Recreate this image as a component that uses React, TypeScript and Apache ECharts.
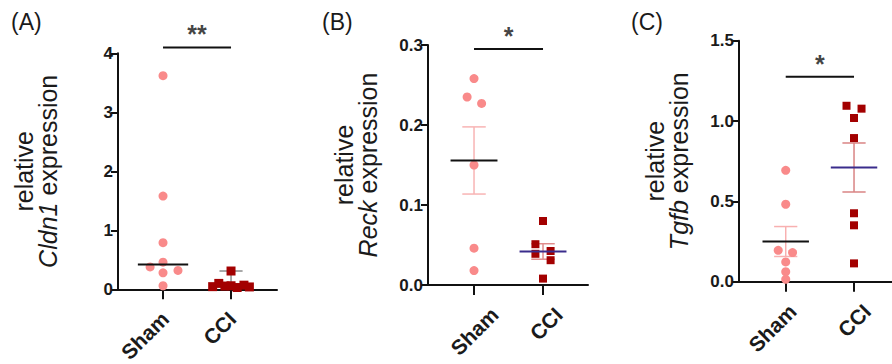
import React, { useEffect, useRef } from 'react';
import * as echarts from 'echarts';

const categories = ['Sham', 'CCI'];
const panelLetters = ['(A)', '(B)', '(C)'];
const genes = ['Cldn1', 'Reck', 'Tgfb'];
const stars = ['**', '*', '*'];
const bracketY = [4.1, 0.295, 1.275];

// y axis ranges and ticks
const yMax = [4, 0.3, 1.5];
const yInterval = [1, 0.1, 0.5];
const yDecimals = [0, 1, 1];

// Panel A (Cldn1) — median shown
const shamA = [3.62, 1.58, 0.79, 0.46, 0.38, 0.28, 0.32, 0.06];
const shamJitterA = [0, 0, 0, 0, -0.19, 0, 0.22, 0];
const cciA = [0.31, 0.045, 0.1, 0.055, 0.06, 0.03, 0.07, 0.04];
const cciJitterA = [0, -0.27, -0.18, -0.09, 0, 0.09, 0.19, 0.27];
const cciWhiskerTopA = 0.31;

// Panel B (Reck) — mean ± SEM
const shamB = [0.258, 0.235, 0.227, 0.15, 0.046, 0.018];
const shamJitterB = [0, -0.1, 0.11, 0, 0, 0];
const cciB = [0.08, 0.051, 0.039, 0.0425, 0.031, 0.008];
const cciJitterB = [0, -0.11, -0.11, 0.11, 0.11, 0];

// Panel C (Tgfb) — mean ± SEM
const shamC = [0.693, 0.482, 0.195, 0.181, 0.123, 0.062, 0.015];
const shamJitterC = [0, 0, -0.11, 0.1, 0, 0, 0];
const cciC = [1.095, 1.077, 1.019, 0.894, 0.426, 0.351, 0.114];
const cciJitterC = [-0.11, 0.11, 0, 0, 0, 0, 0];

const mean = (a: number[]) => a.reduce((s, v) => s + v, 0) / a.length;
const sem = (a: number[]) => {
  const m = mean(a);
  const v = a.reduce((s, x) => s + (x - m) ** 2, 0) / (a.length - 1);
  return Math.sqrt(v / a.length);
};
const median = (a: number[]) => {
  const s = [...a].sort((x, y) => x - y);
  const n = s.length;
  return n % 2 ? s[(n - 1) / 2] : (s[n / 2 - 1] + s[n / 2]) / 2;
};

const FONT = 'Liberation Sans, Arial, sans-serif';
const SHAM_COLOR = '#F98A8A';
const CCI_COLOR = '#A30000';

// layout (pixels / axis extents)
const grids = [
  { left: 118, top: 53.3, width: 159, height: 236 },
  { left: 428, top: 45, width: 160, height: 240 },
  { left: 739, top: 40.7, width: 153, height: 241 },
];
const xMins = [-0.662, -0.667, -0.684];
const xMaxs = [1.676, 1.652, 1.556];
const nameGaps = [58, 48, 48];
// where the rotated category labels are anchored (axis units)
const labelAnchors = [
  [0.03, 1.02],
  [0.3, 1.23],
  [0.1, 1.19],
];

function hLine(idx: number, x: number, y: number, hw: number, color: string, width: number, z: number) {
  return {
    type: 'custom',
    xAxisIndex: idx,
    yAxisIndex: idx,
    z,
    silent: true,
    data: [[x, y]],
    encode: { x: 0, y: 1 },
    renderItem: (params: any, api: any) => {
      const p1 = api.coord([api.value(0) - hw, api.value(1)]);
      const p2 = api.coord([api.value(0) + hw, api.value(1)]);
      return {
        type: 'line',
        shape: { x1: p1[0], y1: p1[1], x2: p2[0], y2: p2[1] },
        style: { stroke: color, lineWidth: width },
      };
    },
  };
}

function errBar(idx: number, x: number, lo: number, hi: number, hw: number, color: string, width: number, z: number, lowCap = true) {
  return {
    type: 'custom',
    xAxisIndex: idx,
    yAxisIndex: idx,
    z,
    silent: true,
    data: [[x, lo, hi]],
    encode: { x: 0, y: [1, 2] },
    renderItem: (params: any, api: any) => {
      const xv = api.value(0);
      const pl = api.coord([xv, api.value(1)]);
      const ph = api.coord([xv, api.value(2)]);
      const hl = api.coord([xv - hw, api.value(2)]);
      const hr = api.coord([xv + hw, api.value(2)]);
      const ll = api.coord([xv - hw, api.value(1)]);
      const lr = api.coord([xv + hw, api.value(1)]);
      const style = { stroke: color, lineWidth: width };
      const children: any[] = [
        { type: 'line', shape: { x1: pl[0], y1: pl[1], x2: ph[0], y2: ph[1] }, style },
        { type: 'line', shape: { x1: hl[0], y1: hl[1], x2: hr[0], y2: hr[1] }, style },
      ];
      if (lowCap) children.push({ type: 'line', shape: { x1: ll[0], y1: ll[1], x2: lr[0], y2: lr[1] }, style });
      return { type: 'group', children };
    },
  };
}

function points(idx: number, center: number, vals: number[], jit: number[], symbol: string, color: string, size: number) {
  return {
    type: 'scatter',
    xAxisIndex: idx,
    yAxisIndex: idx,
    z: 3,
    symbol,
    symbolSize: size,
    itemStyle: { color, opacity: 1 },
    data: vals.map((v, i) => [center + jit[i], v]),
  };
}

function bracket(idx: number) {
  return [
    {
      type: 'line',
      xAxisIndex: idx,
      yAxisIndex: idx,
      clip: false,
      symbol: 'none',
      silent: true,
      lineStyle: { color: '#111', width: 2 },
      data: [[0, bracketY[idx]], [1, bracketY[idx]]],
    },
    {
      type: 'scatter',
      xAxisIndex: idx,
      yAxisIndex: idx,
      clip: false,
      silent: true,
      symbolSize: 1,
      itemStyle: { color: 'rgba(0,0,0,0)' },
      label: {
        show: true,
        position: 'top',
        distance: 0,
        formatter: stars[idx],
        fontSize: 25,
        fontWeight: 'bold',
        color: '#111',
        fontFamily: FONT,
      },
      data: [[0.5, bracketY[idx]]],
    },
  ];
}

export default function App() {
  const ref = useRef<HTMLDivElement>(null);
  useEffect(() => {
    if (!ref.current) return;
    const chart = echarts.init(ref.current, undefined, { renderer: 'svg' });

    const xAxes = grids.map((_, i) => ({
      type: 'value',
      gridIndex: i,
      min: xMins[i],
      max: xMaxs[i],
      splitLine: { show: false },
      axisLine: { show: true, onZero: false, lineStyle: { color: '#111', width: 2 } },
      axisTick: { show: true, customValues: [0, 1], length: 10, lineStyle: { color: '#111', width: 2 } },
      axisLabel: {
        show: true,
        customValues: labelAnchors[i],
        rotate: 45,
        margin: 26,
        fontSize: 21,
        fontWeight: 'bold',
        color: '#1a1a1a',
        fontFamily: FONT,
        formatter: (v: number) => categories[Math.round(v)] ?? '',
      },
    }));

    const yAxes = grids.map((_, i) => ({
      type: 'value',
      gridIndex: i,
      min: 0,
      max: yMax[i],
      interval: yInterval[i],
      splitLine: { show: false },
      axisLine: { show: true, onZero: false, lineStyle: { color: '#111', width: 2 } },
      axisTick: { show: true, length: 7, lineStyle: { color: '#111', width: 2 } },
      axisLabel: {
        margin: 5,
        fontSize: 17,
        fontWeight: 'bold',
        color: '#1a1a1a',
        fontFamily: FONT,
        formatter: (v: number) => v.toFixed(yDecimals[i]),
      },
      name: `relative\n{i|${genes[i]}} expression`,
      nameLocation: 'middle',
      nameRotate: 90,
      nameGap: nameGaps[i],
      nameTextStyle: {
        fontSize: 25,
        lineHeight: 24,
        color: '#1a1a1a',
        fontFamily: FONT,
        rich: { i: { fontStyle: 'italic', fontSize: 25, lineHeight: 24, color: '#1a1a1a', fontFamily: FONT } },
      },
    }));

    const mB0 = mean(shamB), sB0 = sem(shamB), mB1 = mean(cciB), sB1 = sem(cciB);
    const mC0 = mean(shamC), sC0 = sem(shamC), mC1 = mean(cciC), sC1 = sem(cciC);

    const series: any[] = [
      // Panel A
      errBar(0, 1, median(cciA), cciWhiskerTopA, 0.17, '#8c8c8c', 1.5, 1, false),
      hLine(0, 1, median(cciA), 0.3, '#8c8c8c', 1.5, 1),
      points(0, 0, shamA, shamJitterA, 'circle', SHAM_COLOR, 9),
      points(0, 1, cciA, cciJitterA, 'rect', CCI_COLOR, 9),
      hLine(0, 0, median(shamA), 0.37, '#111', 2, 4),
      ...bracket(0),
      // Panel B
      errBar(1, 0, mB0 - sB0, mB0 + sB0, 0.17, '#F8B4B4', 1.5, 1),
      errBar(1, 1, mB1 - sB1, mB1 + sB1, 0.17, '#E08C8C', 1.5, 1),
      points(1, 0, shamB, shamJitterB, 'circle', SHAM_COLOR, 9),
      points(1, 1, cciB, cciJitterB, 'rect', CCI_COLOR, 8),
      hLine(1, 0, mB0, 0.34, '#111', 2, 4),
      hLine(1, 1, mB1, 0.34, '#3A2C8C', 2, 4),
      ...bracket(1),
      // Panel C
      errBar(2, 0, mC0 - sC0, mC0 + sC0, 0.17, '#F8B0B0', 1.5, 1),
      errBar(2, 1, mC1 - sC1, mC1 + sC1, 0.17, '#D98484', 1.5, 1),
      points(2, 0, shamC, shamJitterC, 'circle', SHAM_COLOR, 9),
      points(2, 1, cciC, cciJitterC, 'rect', CCI_COLOR, 8),
      hLine(2, 0, mC0, 0.34, '#111', 2, 4),
      hLine(2, 1, mC1, 0.34, '#3A2C8C', 2, 4),
      ...bracket(2),
    ];

    const letterX = [11, 322, 631];
    chart.setOption({
      animation: false,
      backgroundColor: '#ffffff',
      textStyle: { fontFamily: FONT },
      grid: grids.map((g) => ({ ...g, containLabel: false, outerBoundsMode: 'none' })),
      xAxis: xAxes,
      yAxis: yAxes,
      series,
      graphic: panelLetters.map((t, i) => ({
        type: 'text',
        left: letterX[i],
        top: 10,
        style: { text: t, fontSize: 23, fill: '#1a1a1a', fontFamily: FONT },
      })),
    });
    return () => chart.dispose();
  }, []);
  return <div ref={ref} style={{ position: 'absolute', left: 0, top: 0, width: 892, height: 364 }} />;
}
